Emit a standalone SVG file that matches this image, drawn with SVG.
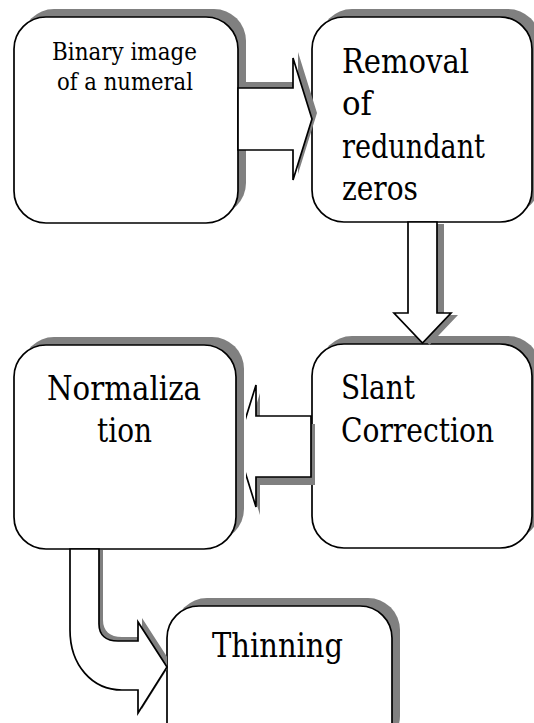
<svg xmlns="http://www.w3.org/2000/svg" width="534" height="723" viewBox="0 0 534 723">
<style>
.box{fill:#fff;stroke:#000;stroke-width:1.7}
.sh{fill:#808080;stroke:none}
.arr{fill:#fff;stroke:#000;stroke-width:1.7;stroke-linejoin:miter}
.t{font-family:'DejaVu Serif','Liberation Serif',serif;fill:#000}
.s26{font-size:25px}
.s36{font-size:34px}
</style>
<defs>
<clipPath id="c1"><rect x="0" y="0" width="312" height="723"/></clipPath>
<clipPath id="c2"><rect x="0" y="0" width="534" height="344"/></clipPath>
<clipPath id="c3"><rect x="246" y="0" width="288" height="723"/></clipPath>
<clipPath id="c4"><rect x="0" y="550" width="167" height="173"/></clipPath>
</defs>
<rect width="534" height="723" fill="#fff"/>
<g id="node-binary">
<rect class="sh" x="22" y="9" width="224" height="206" rx="32"/>
<rect class="box" x="14" y="17" width="224" height="206" rx="32"/>
<text class="t s26" x="52" y="60" textLength="145" lengthAdjust="spacingAndGlyphs">Binary image</text>
<text class="t s26" x="57" y="90" textLength="136" lengthAdjust="spacingAndGlyphs">of a numeral</text>
</g>
<g id="node-removal">
<rect class="sh" x="320" y="9" width="220" height="205" rx="32"/>
<rect class="box" x="312" y="17" width="220" height="205" rx="32"/>
<text class="t s36" x="342" y="73" textLength="127" lengthAdjust="spacingAndGlyphs">Removal</text>
<text class="t s36" x="342" y="115" textLength="30" lengthAdjust="spacingAndGlyphs">of</text>
<text class="t s36" x="342" y="158" textLength="143" lengthAdjust="spacingAndGlyphs">redundant</text>
<text class="t s36" x="342" y="200" textLength="76" lengthAdjust="spacingAndGlyphs">zeros</text>
</g>
<g id="node-slant">
<rect class="sh" x="320" y="336" width="220" height="204" rx="32"/>
<rect class="box" x="312" y="344" width="220" height="204" rx="32"/>
<text class="t s36" x="341" y="399" textLength="74" lengthAdjust="spacingAndGlyphs">Slant</text>
<text class="t s36" x="341" y="442" textLength="153" lengthAdjust="spacingAndGlyphs">Correction</text>
</g>
<g id="node-normalization">
<rect class="sh" x="22" y="337" width="222" height="204" rx="32"/>
<rect class="box" x="14" y="345" width="222" height="204" rx="32"/>
<text class="t s36" x="47" y="400" textLength="154" lengthAdjust="spacingAndGlyphs">Normaliza</text>
<text class="t s36" x="97" y="442" textLength="55" lengthAdjust="spacingAndGlyphs">tion</text>
</g>
<g id="node-thinning">
<rect class="sh" x="175" y="598" width="225" height="150" rx="32"/>
<rect class="box" x="167" y="606" width="225" height="150" rx="32"/>
<text class="t s36" x="212" y="657" textLength="131" lengthAdjust="spacingAndGlyphs">Thinning</text>
</g>
<g id="connectors">
<g id="arrow-1">
<polygon class="sh" clip-path="url(#c1)" transform="translate(5,-6)" points="238,88 293,88 293,58 312,119 293,180 293,150 238,150"/>
<polygon class="arr" points="238,88 293,88 293,58 312,119 293,180 293,150 238,150"/>
</g>
<g id="arrow-2">
<polygon class="sh" clip-path="url(#c2)" transform="translate(7,2)" points="408,222 437,222 437,313 451,313 422.5,343 394,313 408,313"/>
<polygon class="arr" points="408,222 437,222 437,313 451,313 422.5,343 394,313 408,313"/>
</g>
<g id="arrow-3" clip-path="url(#c3)">
<polygon class="sh" transform="translate(4,8)" points="311,416 256,416 256,385 237,446 256,507 256,477 311,477"/>
<polygon class="arr" points="311,416 256,416 256,385 237,446 256,507 256,477 311,477"/>
</g>
<g id="arrow-4">
<g clip-path="url(#c4)"><path class="sh" transform="translate(4,-4)" d="M70,549 V630 C70,665 92,690 122,690 H138 V713 L167,667 L138,622 V641 H118 C106,641 99,635 99,624 V549 Z"/></g>
<path class="arr" d="M70,549 V630 C70,665 92,690 122,690 H138 V713 L167,667 L138,622 V641 H118 C106,641 99,635 99,624 V549 Z"/>
</g>
</g>
</svg>
